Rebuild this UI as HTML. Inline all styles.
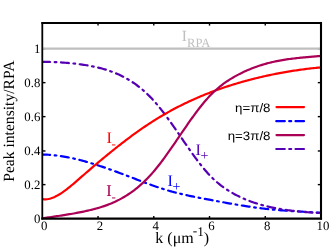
<!DOCTYPE html>
<html><head><meta charset="utf-8"><title>chart</title>
<style>
html,body{margin:0;padding:0;background:#fff;}
body{width:332px;height:249px;overflow:hidden;}
svg{display:block;will-change:transform;}
text{font-family:"Liberation Serif",serif;text-rendering:geometricPrecision;}
.sans{font-family:"Liberation Sans",sans-serif;}
</style></head><body>
<svg width="332" height="249" viewBox="0 0 332 249">
<rect width="332" height="249" fill="#fff"/>
<defs><mask id="tm"><rect width="332" height="249" fill="#fff"/></mask><clipPath id="c"><rect x="42.3" y="23.0" width="278.70" height="195.60"/></clipPath></defs>
<g stroke="#000" stroke-width="1.4">
<line x1="98.04" y1="218.6" x2="98.04" y2="216.00"/>
<line x1="98.04" y1="23.0" x2="98.04" y2="25.60"/>
<line x1="153.78" y1="218.6" x2="153.78" y2="216.00"/>
<line x1="153.78" y1="23.0" x2="153.78" y2="25.60"/>
<line x1="209.52" y1="218.6" x2="209.52" y2="216.00"/>
<line x1="209.52" y1="23.0" x2="209.52" y2="25.60"/>
<line x1="265.26" y1="218.6" x2="265.26" y2="216.00"/>
<line x1="265.26" y1="23.0" x2="265.26" y2="25.60"/>
<line x1="42.3" y1="184.61" x2="45.50" y2="184.61"/>
<line x1="321.0" y1="184.61" x2="317.80" y2="184.61"/>
<line x1="42.3" y1="150.97" x2="45.50" y2="150.97"/>
<line x1="321.0" y1="150.97" x2="317.80" y2="150.97"/>
<line x1="42.3" y1="116.63" x2="45.50" y2="116.63"/>
<line x1="321.0" y1="116.63" x2="317.80" y2="116.63"/>
<line x1="42.3" y1="82.64" x2="45.50" y2="82.64"/>
<line x1="321.0" y1="82.64" x2="317.80" y2="82.64"/>
<line x1="42.3" y1="48.65" x2="45.50" y2="48.65"/>
<line x1="321.0" y1="48.65" x2="317.80" y2="48.65"/>
</g>
<!-- grey RPA line -->
<line x1="42.3" y1="48.65" x2="321.0" y2="48.65" stroke="#bfbfbf" stroke-width="2.2"/>
<g clip-path="url(#c)" fill="none" stroke-width="2.2" stroke-linecap="butt" stroke-linejoin="round">
<path d="M41.30,154.57 L42.71,154.57 L44.12,154.60 L45.53,154.64 L46.94,154.69 L48.35,154.76 L49.76,154.85 L51.17,154.96 L52.58,155.08 L53.99,155.22 L55.41,155.37 L56.82,155.53 L58.23,155.71 L59.64,155.91 L61.05,156.12 L62.46,156.34 L63.87,156.57 L65.28,156.82 L66.69,157.08 L68.10,157.35 L69.51,157.64 L70.92,157.93 L72.33,158.24 L73.74,158.55 L75.15,158.88 L76.56,159.22 L77.97,159.57 L79.38,159.92 L80.80,160.29 L82.21,160.66 L83.62,161.04 L85.03,161.43 L86.44,161.83 L87.85,162.23 L89.26,162.65 L90.67,163.07 L92.08,163.49 L93.49,163.93 L94.90,164.37 L96.31,164.81 L97.72,165.27 L99.13,165.73 L100.54,166.19 L101.95,166.66 L103.36,167.14 L104.77,167.62 L106.19,168.10 L107.60,168.59 L109.01,169.09 L110.42,169.59 L111.83,170.09 L113.24,170.60 L114.65,171.11 L116.06,171.63 L117.47,172.15 L118.88,172.67 L120.29,173.20 L121.70,173.73 L123.11,174.26 L124.52,174.79 L125.93,175.33 L127.34,175.87 L128.75,176.41 L130.16,176.95 L131.58,177.50 L132.99,178.04 L134.40,178.58 L135.81,179.13 L137.22,179.67 L138.63,180.21 L140.04,180.75 L141.45,181.29 L142.86,181.82 L144.27,182.35 L145.68,182.88 L147.09,183.41 L148.50,183.93 L149.91,184.44 L151.32,184.96 L152.73,185.46 L154.14,185.96 L155.55,186.46 L156.97,186.94 L158.38,187.42 L159.79,187.90 L161.20,188.36 L162.61,188.82 L164.02,189.26 L165.43,189.70 L166.84,190.13 L168.25,190.55 L169.66,190.96 L171.07,191.36 L172.48,191.75 L173.89,192.13 L175.30,192.50 L176.71,192.86 L178.12,193.21 L179.53,193.56 L180.94,193.90 L182.36,194.23 L183.77,194.56 L185.18,194.88 L186.59,195.19 L188.00,195.50 L189.41,195.80 L190.82,196.10 L192.23,196.39 L193.64,196.68 L195.05,196.96 L196.46,197.25 L197.87,197.52 L199.28,197.80 L200.69,198.07 L202.10,198.34 L203.51,198.61 L204.92,198.87 L206.33,199.14 L207.75,199.40 L209.16,199.67 L210.57,199.93 L211.98,200.20 L213.39,200.46 L214.80,200.72 L216.21,200.98 L217.62,201.25 L219.03,201.51 L220.44,201.77 L221.85,202.03 L223.26,202.28 L224.67,202.54 L226.08,202.80 L227.49,203.05 L228.90,203.30 L230.31,203.55 L231.72,203.80 L233.14,204.04 L234.55,204.29 L235.96,204.53 L237.37,204.77 L238.78,205.00 L240.19,205.24 L241.60,205.47 L243.01,205.70 L244.42,205.92 L245.83,206.14 L247.24,206.36 L248.65,206.57 L250.06,206.78 L251.47,206.99 L252.88,207.19 L254.29,207.39 L255.70,207.58 L257.11,207.77 L258.53,207.96 L259.94,208.14 L261.35,208.32 L262.76,208.49 L264.17,208.66 L265.58,208.82 L266.99,208.97 L268.40,209.12 L269.81,209.27 L271.22,209.41 L272.63,209.55 L274.04,209.68 L275.45,209.81 L276.86,209.93 L278.27,210.06 L279.68,210.17 L281.09,210.29 L282.50,210.40 L283.92,210.50 L285.33,210.61 L286.74,210.71 L288.15,210.81 L289.56,210.90 L290.97,211.00 L292.38,211.09 L293.79,211.18 L295.20,211.27 L296.61,211.35 L298.02,211.44 L299.43,211.52 L300.84,211.60 L302.25,211.69 L303.66,211.77 L305.07,211.85 L306.48,211.93 L307.89,212.00 L309.31,212.08 L310.72,212.16 L312.13,212.24 L313.54,212.32 L314.95,212.40 L316.36,212.48 L317.77,212.56 L319.18,212.65 L320.59,212.73 L322.00,212.82" stroke="#0000ff" stroke-linecap="round" stroke-dasharray="7.9 4.6 1.7 4.6" stroke-dashoffset="17.9"/>
<path d="M41.30,61.89 L42.71,61.88 L44.12,61.89 L45.53,61.90 L46.94,61.91 L48.35,61.94 L49.76,61.97 L51.17,62.00 L52.58,62.04 L53.99,62.09 L55.41,62.15 L56.82,62.21 L58.23,62.28 L59.64,62.36 L61.05,62.44 L62.46,62.53 L63.87,62.63 L65.28,62.73 L66.69,62.85 L68.10,62.97 L69.51,63.10 L70.92,63.23 L72.33,63.37 L73.74,63.53 L75.15,63.69 L76.56,63.85 L77.97,64.03 L79.38,64.21 L80.80,64.40 L82.21,64.61 L83.62,64.81 L85.03,65.03 L86.44,65.26 L87.85,65.50 L89.26,65.74 L90.67,66.00 L92.08,66.27 L93.49,66.55 L94.90,66.85 L96.31,67.16 L97.72,67.49 L99.13,67.83 L100.54,68.18 L101.95,68.56 L103.36,68.95 L104.77,69.36 L106.19,69.79 L107.60,70.23 L109.01,70.70 L110.42,71.19 L111.83,71.71 L113.24,72.24 L114.65,72.80 L116.06,73.38 L117.47,73.99 L118.88,74.62 L120.29,75.28 L121.70,75.96 L123.11,76.67 L124.52,77.41 L125.93,78.18 L127.34,78.98 L128.75,79.81 L130.16,80.68 L131.58,81.57 L132.99,82.50 L134.40,83.46 L135.81,84.46 L137.22,85.50 L138.63,86.57 L140.04,87.69 L141.45,88.84 L142.86,90.03 L144.27,91.27 L145.68,92.54 L147.09,93.86 L148.50,95.23 L149.91,96.64 L151.32,98.10 L152.73,99.61 L154.14,101.16 L155.55,102.77 L156.97,104.42 L158.38,106.11 L159.79,107.85 L161.20,109.63 L162.61,111.44 L164.02,113.28 L165.43,115.16 L166.84,117.06 L168.25,119.00 L169.66,120.95 L171.07,122.93 L172.48,124.93 L173.89,126.94 L175.30,128.96 L176.71,131.00 L178.12,133.05 L179.53,135.10 L180.94,137.16 L182.36,139.21 L183.77,141.27 L185.18,143.32 L186.59,145.36 L188.00,147.40 L189.41,149.42 L190.82,151.42 L192.23,153.41 L193.64,155.37 L195.05,157.31 L196.46,159.22 L197.87,161.11 L199.28,162.95 L200.69,164.77 L202.10,166.54 L203.51,168.27 L204.92,169.95 L206.33,171.59 L207.75,173.18 L209.16,174.71 L210.57,176.18 L211.98,177.60 L213.39,178.97 L214.80,180.28 L216.21,181.55 L217.62,182.76 L219.03,183.93 L220.44,185.05 L221.85,186.13 L223.26,187.16 L224.67,188.16 L226.08,189.12 L227.49,190.04 L228.90,190.93 L230.31,191.78 L231.72,192.61 L233.14,193.40 L234.55,194.17 L235.96,194.91 L237.37,195.63 L238.78,196.33 L240.19,197.01 L241.60,197.66 L243.01,198.30 L244.42,198.91 L245.83,199.51 L247.24,200.08 L248.65,200.64 L250.06,201.18 L251.47,201.70 L252.88,202.20 L254.29,202.69 L255.70,203.16 L257.11,203.61 L258.53,204.04 L259.94,204.46 L261.35,204.87 L262.76,205.26 L264.17,205.64 L265.58,206.00 L266.99,206.35 L268.40,206.68 L269.81,207.01 L271.22,207.32 L272.63,207.62 L274.04,207.90 L275.45,208.18 L276.86,208.45 L278.27,208.70 L279.68,208.95 L281.09,209.18 L282.50,209.41 L283.92,209.63 L285.33,209.84 L286.74,210.04 L288.15,210.23 L289.56,210.42 L290.97,210.59 L292.38,210.76 L293.79,210.93 L295.20,211.08 L296.61,211.24 L298.02,211.38 L299.43,211.52 L300.84,211.65 L302.25,211.78 L303.66,211.91 L305.07,212.03 L306.48,212.14 L307.89,212.25 L309.31,212.36 L310.72,212.47 L312.13,212.57 L313.54,212.67 L314.95,212.76 L316.36,212.86 L317.77,212.95 L319.18,213.04 L320.59,213.13 L322.00,213.22" stroke="#5500b4" stroke-linecap="round" stroke-dasharray="7.9 4.6 1.7 4.6" stroke-dashoffset="17.9"/>
<path d="M41.30,198.98 L42.71,199.22 L44.12,199.34 L45.53,199.34 L46.94,199.23 L48.35,199.02 L49.76,198.70 L51.17,198.30 L52.58,197.80 L53.99,197.22 L55.41,196.57 L56.82,195.85 L58.23,195.06 L59.64,194.21 L61.05,193.31 L62.46,192.37 L63.87,191.38 L65.28,190.35 L66.69,189.28 L68.10,188.19 L69.51,187.06 L70.92,185.91 L72.33,184.74 L73.74,183.54 L75.15,182.34 L76.56,181.12 L77.97,179.89 L79.38,178.66 L80.80,177.42 L82.21,176.19 L83.62,174.96 L85.03,173.74 L86.44,172.51 L87.85,171.30 L89.26,170.08 L90.67,168.87 L92.08,167.66 L93.49,166.46 L94.90,165.26 L96.31,164.07 L97.72,162.88 L99.13,161.69 L100.54,160.51 L101.95,159.34 L103.36,158.17 L104.77,157.00 L106.19,155.84 L107.60,154.69 L109.01,153.54 L110.42,152.39 L111.83,151.25 L113.24,150.12 L114.65,149.00 L116.06,147.87 L117.47,146.76 L118.88,145.65 L120.29,144.55 L121.70,143.46 L123.11,142.37 L124.52,141.29 L125.93,140.21 L127.34,139.15 L128.75,138.09 L130.16,137.04 L131.58,135.99 L132.99,134.96 L134.40,133.93 L135.81,132.91 L137.22,131.90 L138.63,130.90 L140.04,129.91 L141.45,128.93 L142.86,127.95 L144.27,126.99 L145.68,126.03 L147.09,125.09 L148.50,124.15 L149.91,123.22 L151.32,122.31 L152.73,121.40 L154.14,120.51 L155.55,119.62 L156.97,118.75 L158.38,117.88 L159.79,117.03 L161.20,116.19 L162.61,115.36 L164.02,114.53 L165.43,113.72 L166.84,112.92 L168.25,112.12 L169.66,111.34 L171.07,110.56 L172.48,109.80 L173.89,109.04 L175.30,108.30 L176.71,107.56 L178.12,106.83 L179.53,106.11 L180.94,105.40 L182.36,104.70 L183.77,104.01 L185.18,103.33 L186.59,102.65 L188.00,101.98 L189.41,101.33 L190.82,100.68 L192.23,100.03 L193.64,99.40 L195.05,98.77 L196.46,98.15 L197.87,97.54 L199.28,96.94 L200.69,96.35 L202.10,95.76 L203.51,95.18 L204.92,94.60 L206.33,94.04 L207.75,93.48 L209.16,92.93 L210.57,92.38 L211.98,91.84 L213.39,91.31 L214.80,90.79 L216.21,90.27 L217.62,89.76 L219.03,89.25 L220.44,88.76 L221.85,88.27 L223.26,87.78 L224.67,87.30 L226.08,86.83 L227.49,86.36 L228.90,85.90 L230.31,85.45 L231.72,85.00 L233.14,84.56 L234.55,84.13 L235.96,83.70 L237.37,83.28 L238.78,82.86 L240.19,82.45 L241.60,82.04 L243.01,81.64 L244.42,81.25 L245.83,80.86 L247.24,80.48 L248.65,80.10 L250.06,79.73 L251.47,79.36 L252.88,79.00 L254.29,78.65 L255.70,78.30 L257.11,77.95 L258.53,77.61 L259.94,77.28 L261.35,76.95 L262.76,76.62 L264.17,76.30 L265.58,75.99 L266.99,75.68 L268.40,75.38 L269.81,75.08 L271.22,74.78 L272.63,74.49 L274.04,74.21 L275.45,73.93 L276.86,73.65 L278.27,73.38 L279.68,73.11 L281.09,72.85 L282.50,72.60 L283.92,72.34 L285.33,72.10 L286.74,71.86 L288.15,71.62 L289.56,71.39 L290.97,71.16 L292.38,70.93 L293.79,70.71 L295.20,70.50 L296.61,70.29 L298.02,70.08 L299.43,69.88 L300.84,69.69 L302.25,69.50 L303.66,69.31 L305.07,69.13 L306.48,68.95 L307.89,68.77 L309.31,68.60 L310.72,68.44 L312.13,68.28 L313.54,68.12 L314.95,67.97 L316.36,67.82 L317.77,67.68 L319.18,67.54 L320.59,67.41 L322.00,67.28" stroke="#ff0000"/>
<path d="M41.30,218.42 L42.71,218.22 L44.12,218.02 L45.53,217.82 L46.94,217.63 L48.35,217.43 L49.76,217.23 L51.17,217.03 L52.58,216.82 L53.99,216.62 L55.41,216.41 L56.82,216.21 L58.23,216.00 L59.64,215.78 L61.05,215.57 L62.46,215.35 L63.87,215.13 L65.28,214.90 L66.69,214.68 L68.10,214.44 L69.51,214.20 L70.92,213.96 L72.33,213.72 L73.74,213.47 L75.15,213.21 L76.56,212.95 L77.97,212.68 L79.38,212.41 L80.80,212.13 L82.21,211.84 L83.62,211.55 L85.03,211.25 L86.44,210.94 L87.85,210.62 L89.26,210.30 L90.67,209.96 L92.08,209.62 L93.49,209.26 L94.90,208.89 L96.31,208.51 L97.72,208.11 L99.13,207.70 L100.54,207.27 L101.95,206.82 L103.36,206.36 L104.77,205.88 L106.19,205.37 L107.60,204.85 L109.01,204.31 L110.42,203.75 L111.83,203.16 L113.24,202.55 L114.65,201.91 L116.06,201.25 L117.47,200.57 L118.88,199.86 L120.29,199.12 L121.70,198.35 L123.11,197.55 L124.52,196.72 L125.93,195.86 L127.34,194.97 L128.75,194.04 L130.16,193.09 L131.58,192.09 L132.99,191.07 L134.40,190.01 L135.81,188.91 L137.22,187.77 L138.63,186.60 L140.04,185.38 L141.45,184.13 L142.86,182.84 L144.27,181.51 L145.68,180.13 L147.09,178.72 L148.50,177.25 L149.91,175.75 L151.32,174.20 L152.73,172.61 L154.14,170.97 L155.55,169.28 L156.97,167.55 L158.38,165.78 L159.79,163.97 L161.20,162.13 L162.61,160.25 L164.02,158.34 L165.43,156.40 L166.84,154.44 L168.25,152.46 L169.66,150.45 L171.07,148.43 L172.48,146.39 L173.89,144.34 L175.30,142.29 L176.71,140.22 L178.12,138.15 L179.53,136.08 L180.94,134.00 L182.36,131.94 L183.77,129.87 L185.18,127.82 L186.59,125.77 L188.00,123.74 L189.41,121.73 L190.82,119.73 L192.23,117.76 L193.64,115.81 L195.05,113.88 L196.46,111.98 L197.87,110.11 L199.28,108.28 L200.69,106.48 L202.10,104.72 L203.51,103.00 L204.92,101.33 L206.33,99.70 L207.75,98.11 L209.16,96.58 L210.57,95.10 L211.98,93.68 L213.39,92.31 L214.80,90.98 L216.21,89.70 L217.62,88.47 L219.03,87.28 L220.44,86.14 L221.85,85.04 L223.26,83.97 L224.67,82.95 L226.08,81.95 L227.49,81.00 L228.90,80.07 L230.31,79.18 L231.72,78.32 L233.14,77.48 L234.55,76.67 L235.96,75.88 L237.37,75.12 L238.78,74.38 L240.19,73.65 L241.60,72.95 L243.01,72.27 L244.42,71.61 L245.83,70.96 L247.24,70.34 L248.65,69.73 L250.06,69.15 L251.47,68.58 L252.88,68.03 L254.29,67.49 L255.70,66.98 L257.11,66.48 L258.53,65.99 L259.94,65.53 L261.35,65.08 L262.76,64.64 L264.17,64.23 L265.58,63.82 L266.99,63.43 L268.40,63.06 L269.81,62.70 L271.22,62.35 L272.63,62.02 L274.04,61.71 L275.45,61.40 L276.86,61.11 L278.27,60.83 L279.68,60.56 L281.09,60.31 L282.50,60.06 L283.92,59.83 L285.33,59.61 L286.74,59.40 L288.15,59.19 L289.56,59.00 L290.97,58.81 L292.38,58.64 L293.79,58.47 L295.20,58.30 L296.61,58.15 L298.02,57.99 L299.43,57.85 L300.84,57.71 L302.25,57.57 L303.66,57.44 L305.07,57.31 L306.48,57.18 L307.89,57.05 L309.31,56.93 L310.72,56.81 L312.13,56.68 L313.54,56.56 L314.95,56.44 L316.36,56.32 L317.77,56.19 L319.18,56.07 L320.59,55.94 L322.00,55.81" stroke="#aa0055"/>
</g>
<!-- axes box -->
<g stroke="#000" stroke-linecap="square">
<line x1="42.3" y1="23.0" x2="321.0" y2="23.0" stroke-width="1.8"/>
<line x1="42.3" y1="23.0" x2="42.3" y2="218.6" stroke-width="1.8"/>
<line x1="42.3" y1="218.6" x2="321.0" y2="218.6" stroke-width="2.1"/>
<line x1="321.0" y1="23.0" x2="321.0" y2="218.6" stroke-width="2.1"/>
</g>
<g mask="url(#tm)">
<g font-size="12.8" fill="#000">
<text x="44.20" y="229.8" text-anchor="middle">0</text>
<text x="99.94" y="229.8" text-anchor="middle">2</text>
<text x="155.68" y="229.8" text-anchor="middle">4</text>
<text x="211.42" y="229.8" text-anchor="middle">6</text>
<text x="267.16" y="229.8" text-anchor="middle">8</text>
<text x="322.90" y="229.8" text-anchor="middle">10</text>
<text x="40.3" y="222.80" text-anchor="end">0</text>
<text x="40.3" y="189.41" text-anchor="end">0.2</text>
<text x="40.3" y="155.42" text-anchor="end">0.4</text>
<text x="40.3" y="121.43" text-anchor="end">0.6</text>
<text x="40.3" y="87.44" text-anchor="end">0.8</text>
<text x="40.3" y="53.45" text-anchor="end">1</text>
</g>
<!-- axis labels -->
<text font-size="16" x="155.3" y="243.3">k (μm<tspan font-size="13.3" dy="-8.4" dx="-0.8">-</tspan><tspan font-size="13.3" dy="1" dx="-0.1">1</tspan><tspan dy="7.4" dx="0">)</tspan></text>
<text font-size="15.6" transform="translate(13.9,121.15) rotate(-90)" text-anchor="middle">Peak intensity/RPA</text>
<!-- curve labels -->
<text font-size="15.6" fill="#c0c0c0" x="181.8" y="41.4">I<tspan font-size="12.6" dy="5.6">RPA</tspan></text>
<text font-size="16.2" fill="#ff0000" x="106.4" y="142.6">I<tspan font-size="13" dy="5.2" dx="-0.2">-</tspan></text>
<text font-size="16.4" fill="#aa0055" x="106.3" y="196.4">I<tspan font-size="13" dy="4.3" dx="-0.2">-</tspan></text>
<text font-size="16.2" fill="#0000ff" x="167.4" y="185.7">I<tspan font-size="14" dy="5.0" dx="-0.2">+</tspan></text>
<text font-size="16.2" fill="#5500b4" x="195.4" y="154.6">I<tspan font-size="14" dy="5.0" dx="-0.2">+</tspan></text>
<!-- legend -->
<g class="sans" font-size="12.3" fill="#000">
<text class="sans" transform="translate(270.5,111.5) scale(1.08,1)" text-anchor="end">η=π/8</text>
<text class="sans" transform="translate(270.5,139.5) scale(1.08,1)" text-anchor="end">η=3π/8</text>
</g>
</g>
<g fill="none" stroke-width="2.2" stroke-linecap="round">
<line x1="276.5" y1="107.1" x2="304" y2="107.1" stroke="#ff0000"/>
<line x1="276.3" y1="121.2" x2="304" y2="121.2" stroke="#0000ff" stroke-dasharray="8.5 4.4 2.0 4.3"/>
<line x1="276.5" y1="135.1" x2="304" y2="135.1" stroke="#aa0055"/>
<line x1="276.3" y1="149.0" x2="304" y2="149.0" stroke="#5500b4" stroke-dasharray="8.5 4.4 2.0 4.3"/>
</g>
</svg>
</body></html>
